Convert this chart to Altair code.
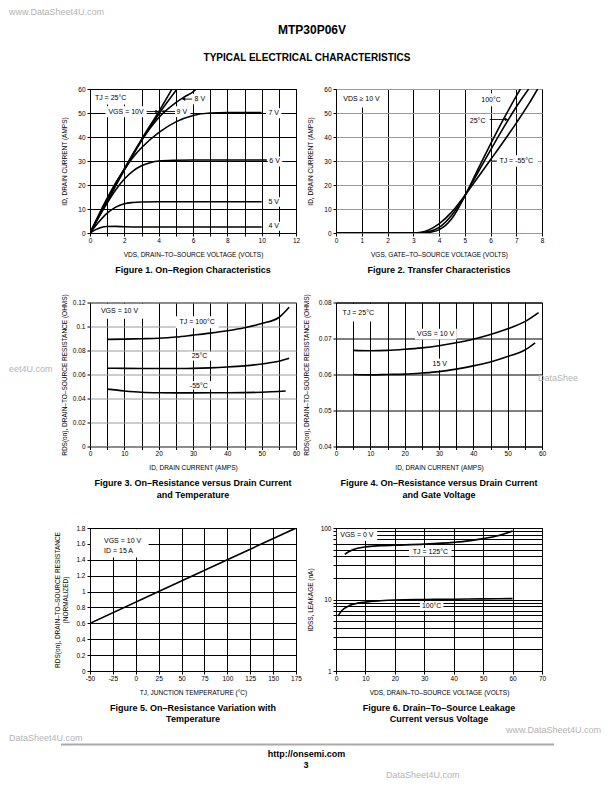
import altair as alt
import pandas as pd

FONT = "Liberation Sans"
WM = "#b3b3b3"

# ---------------- page text
page_title = "MTP30P06V"
page_subtitle = "TYPICAL ELECTRICAL CHARACTERISTICS"
footer_url = "http://onsemi.com"
footer_page = "3"
watermark = "DataSheet4U.com"
watermark_www = "www.DataSheet4U.com"

# ---------------- Figure 1 : On-Region Characteristics
f1_names = ["4 V", "5 V", "6 V", "7 V", "8 V", "9 V", "10 V"]
f1_vds_4v = [0, 0.3, 0.6, 1.0, 1.5, 2, 3, 4, 6, 8, 10]
f1_id_4v = [0, 1.3, 2.2, 2.7, 2.75, 2.6, 2.5, 2.5, 2.5, 2.5, 2.5]
f1_vds_5v = [0, 0.5, 1, 1.5, 2, 2.5, 3, 4, 6, 8, 10]
f1_id_5v = [0, 4.5, 8.3, 10.8, 12.2, 12.7, 12.9, 13, 13, 13, 13]
f1_vds_6v = [0, 0.5, 1, 1.5, 2, 2.5, 3, 3.5, 4, 5, 6, 8, 10.3]
f1_id_6v = [0, 6.5, 12.5, 18, 22.5, 25.8, 28, 29.3, 30, 30.3, 30.4, 30.4, 30.4]
f1_vds_7v = [0, 0.5, 1, 1.5, 2, 2.5, 3, 4, 5, 6, 7, 8, 10]
f1_id_7v = [0, 7.5, 14.5, 21, 26.5, 31.5, 35.5, 41.8, 46.3, 49, 50, 50.2, 50.2]
f1_vds_8v = [0, 1, 2, 3, 4, 5, 5.5, 6, 6.2]
f1_id_8v = [0, 13.3, 26.5, 38.5, 48, 54.3, 56.7, 58.8, 60]
f1_vds_9v = [0, 1, 2, 3, 4, 5.07]
f1_id_9v = [0, 13.2, 26.2, 38.5, 49.5, 60]
f1_vds_10v = [0, 1, 2, 3, 4, 4.78]
f1_id_10v = [0, 13.5, 26.8, 39, 50.5, 60]
f1_label_text = ["TJ = 25°C", "VGS = 10V", "9 V", "8 V", "7 V", "6 V", "5 V", "4 V"]
f1_label_x = [1.2, 2.1, 5.35, 6.4, 10.7, 10.75, 10.7, 10.7]
f1_label_y = [56.3, 50.5, 50.5, 55.8, 49.9, 29.8, 12.9, 2.8]
f1_box_x0 = [0.06, 0.9, 4.95, 5.95, 10.25, 10.35, 10.3, 10.3]
f1_box_x1 = [2.6, 3.3, 5.85, 6.95, 11.15, 11.2, 11.15, 11.15]
f1_box_y0 = [53.5, 48.2, 48.3, 53.6, 47.8, 27.7, 10.9, 0.9]
f1_box_y1 = [59.6, 52.8, 52.8, 58.0, 52.0, 31.9, 14.9, 4.7]
f1_lead_x0 = [3.3, 4.25, 5.45]
f1_lead_x1 = [3.9, 4.95, 5.95]
f1_lead_y = [50.6, 50.6, 55.8]
f1_arrow_x = [3.9, 4.25, 5.45]
f1_arrow_y = [50.6, 50.6, 55.8]
f1_arrow_dir = ["triangle-right", "triangle-left", "triangle-left"]
f1_xticks = list(range(0, 13))
f1_yticks = [0, 10, 20, 30, 40, 50, 60]

# ---------------- Figure 2 : Transfer Characteristics
f2_names = ["100°C", "25°C", "-55°C"]
f2_vgs_100 = [0, 3.4, 3.7, 4.0, 4.5, 5.0, 5.5, 6.0, 6.5, 7.0, 7.16]
f2_id_100 = [0, 0, 0.4, 1.3, 6.0, 15.3, 26.3, 37.0, 47.3, 57.0, 60]
f2_vgs_25 = [0, 3.2, 3.5, 4.0, 4.5, 5.0, 5.5, 6.0, 6.5, 7.0, 7.48]
f2_id_25 = [0, 0, 0.4, 2.3, 7.5, 15.5, 25.0, 34.5, 43.8, 52.5, 60]
f2_vgs_m55 = [0, 3.0, 3.3, 3.6, 4.0, 4.5, 5.0, 5.5, 6.0, 6.5, 7.0, 7.5, 7.83]
f2_id_m55 = [0, 0, 0.3, 1.3, 3.8, 8.8, 15.6, 23.0, 30.5, 38.0, 45.8, 54.0, 60]
f2_label_text = ["VDS ≥ 10 V", "100°C", "25°C", "TJ = -55°C"]
f2_label_x = [0.99, 6.02, 5.5, 7.0]
f2_label_y = [56.0, 55.4, 46.8, 30.0]
f2_box_x0 = [0.05, 5.5, 5.05, 6.2]
f2_box_x1 = [1.95, 6.55, 5.97, 7.85]
f2_box_y0 = [52.3, 52.8, 44.3, 27.6]
f2_box_y1 = [59.6, 58.2, 49.3, 32.4]
f2_lead_x0 = [5.97, 6.02]
f2_lead_x1 = [6.62, 6.25]
f2_lead_y = [47.3, 30.0]
f2_arrow_x = [6.62]
f2_arrow_y = [47.3]
f2_arrow_dir = ["triangle-right"]
f2_xticks = list(range(0, 9))
f2_yticks = [0, 10, 20, 30, 40, 50, 60]

# ---------------- Figure 3 : RDS(on) vs ID and temperature
f3_names = ["100°C", "25°C", "-55°C"]
f3_id_100 = [5, 10, 15, 20, 25, 30, 35, 40, 45, 50, 55, 58]
f3_r_100 = [0.0893, 0.0895, 0.0898, 0.0902, 0.0912, 0.0928, 0.0945, 0.0965, 0.099, 0.1025, 0.1075, 0.1160]
f3_id_25 = [5, 10, 15, 20, 25, 30, 35, 40, 45, 50, 55, 58]
f3_r_25 = [0.0652, 0.0651, 0.0650, 0.0650, 0.0650, 0.0651, 0.0655, 0.0662, 0.0672, 0.0688, 0.0710, 0.0735]
f3_id_m55 = [5, 10, 15, 20, 25, 30, 40, 50, 57]
f3_r_m55 = [0.0478, 0.0463, 0.0452, 0.0448, 0.0447, 0.0447, 0.0448, 0.0452, 0.0462]
f3_label_text = ["VGS = 10 V", "TJ = 100°C", "25°C", "-55°C"]
f3_label_x = [8.6, 31.2, 31.9, 31.7]
f3_label_y = [0.1128, 0.1038, 0.0751, 0.0508]
f3_box_x0 = [0.4, 25.0, 28.5, 28.5]
f3_box_x1 = [16.0, 37.5, 35.3, 35.3]
f3_box_y0 = [0.1065, 0.0985, 0.0715, 0.0475]
f3_box_y1 = [0.1188, 0.1085, 0.0790, 0.0545]
f3_xticks = list(range(0, 61, 5))
f3_yticks = [0, 0.02, 0.04, 0.06, 0.08, 0.1, 0.12]

# ---------------- Figure 4 : RDS(on) vs ID and gate voltage
f4_names = ["10 V", "15 V"]
f4_id_10 = [5, 10, 15, 20, 25, 30, 35, 40, 45, 50, 55, 59]
f4_r_10 = [0.0667, 0.0666, 0.0667, 0.0670, 0.0674, 0.0680, 0.0688, 0.0698, 0.0711, 0.0727, 0.0747, 0.0772]
f4_id_15 = [5, 10, 15, 20, 25, 30, 35, 40, 45, 50, 55, 58]
f4_r_15 = [0.0600, 0.0599, 0.0600, 0.0601, 0.0604, 0.0608, 0.0615, 0.0624, 0.0635, 0.0650, 0.0668, 0.0688]
f4_label_text = ["TJ = 25°C", "VGS = 10 V", "15 V"]
f4_label_x = [6.5, 29.0, 30.2]
f4_label_y = [0.0772, 0.0712, 0.0628]
f4_box_x0 = [0.3, 23.0, 27.5]
f4_box_x1 = [12.5, 35.2, 33.0]
f4_box_y0 = [0.0747, 0.0697, 0.0612]
f4_box_y1 = [0.0796, 0.0727, 0.0644]
f4_xticks = list(range(0, 61, 5))
f4_yticks = [0.04, 0.05, 0.06, 0.07, 0.08]

# ---------------- Figure 5 : RDS(on) vs temperature
f5_tj = [-50, 25, 100, 175]
f5_rds = [0.6, 1.0, 1.4, 1.8]
f5_label_text = ["VGS = 10 V", "ID = 15 A"]
f5_label_x = [-34.7, -34.7]
f5_label_y = [1.64, 1.515]
f5_box_x0 = [-49.0]
f5_box_x1 = [14.0]
f5_box_y0 = [1.43]
f5_box_y1 = [1.785]
f5_xticks = [-50, -25, 0, 25, 50, 75, 100, 125, 150, 175]
f5_yticks = [0, 0.2, 0.4, 0.6, 0.8, 1, 1.2, 1.4, 1.6, 1.8]

# ---------------- Figure 6 : IDSS leakage vs VDS
f6_names = ["125°C", "100°C"]
f6_vds_125 = [3, 5, 7, 10, 15, 20, 30, 40, 45, 50, 55, 60]
f6_i_125 = [43, 48, 51.5, 54.5, 56.5, 57.5, 59.5, 63, 66, 71, 78, 91]
f6_vds_100 = [0.7, 2, 4, 6, 10, 15, 20, 30, 40, 50, 60]
f6_i_100 = [5.9, 7.0, 8.0, 8.6, 9.2, 9.6, 9.85, 10.0, 10.1, 10.2, 10.3]
f6_label_text = ["VGS = 0 V", "TJ = 125°C", "100°C"]
f6_label_x = [7.1, 32.1, 32.5]
f6_label_y = [79, 46, 8.0]
f6_box_x0 = [0.3, 24.8, 28.5]
f6_box_x1 = [14.0, 39.3, 36.5]
f6_box_y0 = [66, 40, 7.0]
f6_box_y1 = [95, 52.5, 9.1]
f6_xticks = [0, 10, 20, 30, 40, 50, 60, 70]
f6_yticks = [1, 2, 3, 4, 5, 6, 7, 8, 9, 10, 20, 30, 40, 50, 60, 70, 80, 90, 100]

captions = [
    "Figure 1. On–Region Characteristics",
    "Figure 2. Transfer Characteristics",
    ["Figure 3. On–Resistance versus Drain Current", "and Temperature"],
    ["Figure 4. On–Resistance versus Drain Current", "and Gate Voltage"],
    ["Figure 5. On–Resistance Variation with", "Temperature"],
    ["Figure 6. Drain–To–Source Leakage", "Current versus Voltage"],
]


def series_df(names, xs_list, ys_list):
    rows = []
    for n, xs, ys in zip(names, xs_list, ys_list):
        for a, b in zip(xs, ys):
            rows.append({"x": a, "y": b, "s": n})
    return pd.DataFrame(rows)


def axis(values, title, grid_color, title_padding, label_expr=None, label_padding=2):
    kw = dict(values=values, title=title, grid=True, gridColor=grid_color, gridWidth=1,
              gridOpacity=1, tickSize=3, tickColor="black", labelPadding=label_padding,
              titlePadding=title_padding, format=".6~g", labelFlush=False,
              labelOverlap=False, domain=False, titleLimit=1000)
    if label_expr:
        kw["labelExpr"] = label_expr
    return alt.Axis(**kw)


def panel(lines, xscale, yscale, xaxis, yaxis, boxes, labels, caption, w, h,
          leaders=None, arrows=None, left_labels=None, pixel_text=None, interp="monotone",
          top_spacer=None):
    def X(f):
        return alt.X(f, type="quantitative", scale=xscale, axis=xaxis)

    def Y(f):
        return alt.Y(f, type="quantitative", scale=yscale, axis=yaxis)

    layers = []
    layers.append(alt.Chart(boxes).mark_rect(color="white").encode(
        x=X("x0"), x2="x1", y=Y("y0"), y2="y1"))
    layers.append(alt.Chart(lines).mark_line(color="black", strokeWidth=1.6,
                                             interpolate=interp, clip=True).encode(
        x=X("x"), y=Y("y"), detail="s:N"))
    if leaders is not None:
        layers.append(alt.Chart(leaders).mark_rule(color="black", strokeWidth=0.9).encode(
            x=X("x0"), x2="x1", y=Y("y")))
    if arrows is not None:
        layers.append(alt.Chart(arrows).mark_point(filled=True, color="black", size=14,
                                                   opacity=1).encode(
            x=X("x"), y=Y("y"), shape=alt.Shape("d:N", scale=None)))
    if labels is not None:
        layers.append(alt.Chart(labels).mark_text(font=FONT, fontSize=7, color="black").encode(
            x=X("x"), y=Y("y"), text="t:N"))
    if left_labels is not None:
        layers.append(alt.Chart(left_labels).mark_text(font=FONT, fontSize=7, color="black",
                                                       align="left").encode(
            x=X("x"), y=Y("y"), text="t:N"))
    if pixel_text is not None:
        for txt, px, py in pixel_text:
            layers.append(alt.Chart(pd.DataFrame({"t": [txt]})).mark_text(
                font=FONT, fontSize=9, color=WM, align="left", baseline="middle").encode(
                text="t:N", x=alt.value(px), y=alt.value(py)))
    if top_spacer is not None:
        # invisible rule that only reserves a little room above the panel
        layers.append(alt.Chart(pd.DataFrame({"a": [0]})).mark_rule(
            strokeOpacity=0, color="white").encode(
            x=alt.value(100), y=alt.value(-top_spacer), y2=alt.value(-top_spacer + 1)))
    return alt.layer(*layers).properties(
        width=w, height=h,
        title=alt.TitleParams(text=caption, orient="bottom", anchor="middle", frame="group",
                              fontSize=9, fontWeight="bold", font=FONT, color="black",
                              offset=8, lineHeight=11.5))


def bdf(x0, x1, y0, y1):
    return pd.DataFrame({"x0": x0, "x1": x1, "y0": y0, "y1": y1})


def ldf(t, x, y):
    return pd.DataFrame({"t": t, "x": x, "y": y})


XTP = 7.5

# ---- Figure 1
p1 = panel(
    series_df(f1_names, [f1_vds_4v, f1_vds_5v, f1_vds_6v, f1_vds_7v, f1_vds_8v, f1_vds_9v, f1_vds_10v],
              [f1_id_4v, f1_id_5v, f1_id_6v, f1_id_7v, f1_id_8v, f1_id_9v, f1_id_10v]),
    alt.Scale(domain=[0, 12], nice=False, zero=False),
    alt.Scale(domain=[0, 60], nice=False, zero=False),
    axis(f1_xticks, "VDS, DRAIN–TO–SOURCE VOLTAGE (VOLTS)", "black", XTP,
         "datum.value % 2 == 0 ? datum.label : ''", 1),
    axis(f1_yticks, "ID, DRAIN CURRENT (AMPS)", "black", 10),
    bdf(f1_box_x0, f1_box_x1, f1_box_y0, f1_box_y1),
    ldf(f1_label_text, f1_label_x, f1_label_y),
    captions[0], 206, 144,
    leaders=pd.DataFrame({"x0": f1_lead_x0, "x1": f1_lead_x1, "y": f1_lead_y}),
    arrows=pd.DataFrame({"x": f1_arrow_x, "y": f1_arrow_y, "d": f1_arrow_dir}),
)

# ---- Figure 2
p2 = panel(
    series_df(f2_names, [f2_vgs_100, f2_vgs_25, f2_vgs_m55], [f2_id_100, f2_id_25, f2_id_m55]),
    alt.Scale(domain=[0, 8], nice=False, zero=False),
    alt.Scale(domain=[0, 60], nice=False, zero=False),
    axis(f2_xticks, "VGS, GATE–TO–SOURCE VOLTAGE (VOLTS)", "black", XTP, None, 1),
    axis(f2_yticks, "ID, DRAIN CURRENT (AMPS)", "#9a9a9a", 10.5),
    bdf(f2_box_x0, f2_box_x1, f2_box_y0, f2_box_y1),
    ldf(f2_label_text, f2_label_x, f2_label_y),
    captions[1], 206, 144,
    leaders=pd.DataFrame({"x0": f2_lead_x0, "x1": f2_lead_x1, "y": f2_lead_y}),
    arrows=pd.DataFrame({"x": f2_arrow_x, "y": f2_arrow_y, "d": f2_arrow_dir}),
)

# ---- Figure 3
p3 = panel(
    series_df(f3_names, [f3_id_100, f3_id_25, f3_id_m55], [f3_r_100, f3_r_25, f3_r_m55]),
    alt.Scale(domain=[0, 60], nice=False, zero=False),
    alt.Scale(domain=[0, 0.12], nice=False, zero=False),
    axis(f3_xticks, "ID, DRAIN CURRENT (AMPS)", "black", XTP,
         "datum.value % 10 == 0 ? datum.label : ''", 1),
    axis(f3_yticks, "RDS(on), DRAIN–TO–SOURCE RESISTANCE (OHMS)", "#9a9a9a", 4.7),
    bdf(f3_box_x0, f3_box_x1, f3_box_y0, f3_box_y1),
    ldf(f3_label_text, f3_label_x, f3_label_y),
    captions[2], 206, 144,
    pixel_text=[("eet4U.com", -81, 66)],
)

# ---- Figure 4
p4 = panel(
    series_df(f4_names, [f4_id_10, f4_id_15], [f4_r_10, f4_r_15]),
    alt.Scale(domain=[0, 60], nice=False, zero=False),
    alt.Scale(domain=[0.04, 0.08], nice=False, zero=False),
    axis(f4_xticks, "ID, DRAIN CURRENT (AMPS)", "black", XTP,
         "datum.value % 10 == 0 ? datum.label : ''", 1),
    axis(f4_yticks, "RDS(on), DRAIN–TO–SOURCE RESISTANCE (OHMS)", "black", 8.8),
    bdf(f4_box_x0, f4_box_x1, f4_box_y0, f4_box_y1),
    ldf(f4_label_text, f4_label_x, f4_label_y),
    captions[3], 206, 144,
    pixel_text=[("DataShee", 202, 75)],
)

# ---- Figure 5
p5 = panel(
    series_df(["r"], [f5_tj], [f5_rds]),
    alt.Scale(domain=[-50, 175], nice=False, zero=False),
    alt.Scale(domain=[0, 1.8], nice=False, zero=False),
    axis(f5_xticks, "TJ, JUNCTION TEMPERATURE (°C)", "black", XTP,
         "replace(datum.label, '\u2212', '-')", 1),
    axis(f5_yticks, ["RDS(on), DRAIN–TO–SOURCE RESISTANCE", "(NORMALIZED)"], "black", 7.3),
    bdf(f5_box_x0, f5_box_x1, f5_box_y0, f5_box_y1),
    None,
    captions[4], 206, 143,
    left_labels=ldf(f5_label_text, f5_label_x, f5_label_y),
    interp="linear",
    top_spacer=9,
)

# ---- Figure 6
p6 = panel(
    series_df(f6_names, [f6_vds_125, f6_vds_100], [f6_i_125, f6_i_100]),
    alt.Scale(domain=[0, 70], nice=False, zero=False),
    alt.Scale(domain=[1, 100], type="log", nice=False),
    axis(f6_xticks, "VDS, DRAIN–TO–SOURCE VOLTAGE (VOLTS)", "black", XTP, None, 1),
    axis(f6_yticks, "IDSS, LEAKAGE (nA)", "black", 6.6,
         "datum.value == 1 || datum.value == 10 || datum.value == 100 ? datum.label : ''"),
    bdf(f6_box_x0, f6_box_x1, f6_box_y0, f6_box_y1),
    ldf(f6_label_text, f6_label_x, f6_label_y),
    captions[5], 206, 143,
)

grid = alt.concat(p1, p2, p3, p4, p5, p6, columns=2,
                  spacing={"row": 17.5, "column": 1}, align="each", bounds="full")


def ptext(txt, px, py, size, weight="normal", color="black", align="center", baseline="middle"):
    return alt.Chart(pd.DataFrame({"t": [txt]})).mark_text(
        font=FONT, fontSize=size, fontWeight=weight, color=color, align=align,
        baseline=baseline).encode(text="t:N", x=alt.value(px), y=alt.value(py))


header = alt.layer(
    ptext(page_title, 222, 22, 12, "bold"),
    ptext(page_subtitle, 217, 49.7, 10, "bold"),
    ptext(watermark_www, -81, 0, 9, color=WM, align="left", baseline="top"),
).properties(width=454, height=77, view=alt.ViewBackground(strokeOpacity=0))

footer_rule = alt.Chart(pd.DataFrame({"a": [0]})).mark_rule(
    color="#aaaaaa", strokeWidth=2).encode(x=alt.value(-29), x2=alt.value(464), y=alt.value(18.5))

footer = alt.layer(
    footer_rule,
    ptext(footer_url, 216.5, 28.2, 9, "bold"),
    ptext(footer_page, 216, 39, 9, "bold"),
    ptext(watermark_www, 511, 3.5, 9, color=WM, align="right"),
    ptext(watermark, -81, 11.5, 9, color=WM, align="left"),
    ptext(watermark, 296, 48.5, 9, color=WM, align="left"),
).properties(width=454, height=50, view=alt.ViewBackground(strokeOpacity=0))

chart = alt.vconcat(header, grid, footer, spacing=0).properties(
    padding={"left": 0, "top": 0, "right": 0, "bottom": 0}
).configure_axis(
    labelFont=FONT, labelFontSize=6.5, labelColor="black",
    titleFont=FONT, titleFontSize=6.5, titleFontWeight="normal", titleColor="black",
).configure_view(stroke="black", strokeWidth=1)

chart.save("out.html", embed_options={"renderer": "svg", "actions": False})
